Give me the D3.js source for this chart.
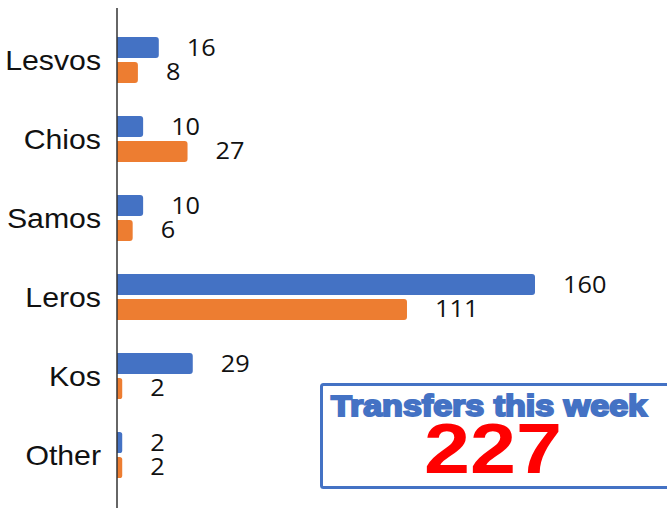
<!DOCTYPE html>
<html>
<head>
<meta charset="utf-8">
<script src="https://cdn.jsdelivr.net/npm/d3@7"></script>
<style>
  html, body { margin: 0; padding: 0; background: #fff; }
  svg { display: block; }
</style>
</head>
<body>
<div id="chart"></div>
<script>
// Data
const islands = ['Lesvos', 'Chios', 'Samos', 'Leros', 'Kos', 'Other'];
const seriesKeys = ['blue', 'orange'];
const blueValues = [16, 10, 10, 160, 29, 2];
const orangeValues = [8, 27, 6, 111, 2, 2];
const boxTitle = 'Transfers this week';
const boxTotal = '227';

const width = 667, height = 508;
const axisX = 117;
const colors = { blue: '#4472C4', orange: '#ED7D31' };

const svg = d3.select('#chart').append('svg')
    .attr('width', width)
    .attr('height', height);

// Scales
const x = d3.scaleLinear().domain([0, 160]).range([axisX, 535]);

const y = d3.scaleBand()
    .domain(islands)
    .range([20.5, 494.5])
    .paddingInner(0.418)
    .paddingOuter(0.209);

const ySub = d3.scaleBand()
    .domain(seriesKeys)
    .range([0, y.bandwidth()])
    .paddingInner(0.16);

const rows = islands.map((name, i) => ({
    name,
    values: [
        { key: 'blue', value: blueValues[i] },
        { key: 'orange', value: orangeValues[i] }
    ]
}));

// bar with rounded right corners only
function barPath(x0, y0, w, h, r) {
    r = Math.min(r, w / 2, h / 2);
    return `M${x0},${y0}H${x0 + w - r}Q${x0 + w},${y0} ${x0 + w},${y0 + r}` +
        `V${y0 + h - r}Q${x0 + w},${y0 + h} ${x0 + w - r},${y0 + h}H${x0}Z`;
}

// Bars
const group = svg.append('g')
    .selectAll('g')
    .data(rows)
    .enter().append('g')
    .attr('transform', d => `translate(0,${y(d.name)})`);

group.selectAll('path')
    .data(d => d.values)
    .enter().append('path')
    .attr('d', d => barPath(x(0), ySub(d.key), x(d.value) - x(0), ySub.bandwidth(), 3))
    .attr('fill', d => colors[d.key]);

// Value labels
group.selectAll('text.val')
    .data(d => d.values)
    .enter().append('text')
    .attr('class', 'val')
    .attr('transform', d => `translate(${x(d.value) + 28},${ySub(d.key) + ySub.bandwidth() / 2 + 8}) scale(1.1,1)`)
    .attr('font-family', "'Open Sans', 'Noto Sans', sans-serif")
    .attr('font-size', '23px')
    .attr('fill', '#111')
    .text(d => d.value);

// Category labels
group.append('text')
    .attr('transform', `translate(101,${y.bandwidth() / 2 + 9.5}) scale(1.1,1)`)
    .attr('text-anchor', 'end')
    .attr('font-family', "'Liberation Sans', Arial, sans-serif")
    .attr('font-size', '27.5px')
    .attr('fill', '#111')
    .text(d => d.name);

// Axis line
svg.append('line')
    .attr('x1', axisX).attr('x2', axisX)
    .attr('y1', 8).attr('y2', height)
    .attr('stroke', '#333')
    .attr('stroke-width', 1.5);

// Summary box
svg.append('rect')
    .attr('x', 321.5)
    .attr('y', 384.5)
    .attr('width', 380)
    .attr('height', 103)
    .attr('rx', 2)
    .attr('fill', '#fff')
    .attr('stroke', '#4472C4')
    .attr('stroke-width', 3);

svg.append('text')
    .attr('x', 331)
    .attr('y', 416)
    .attr('textLength', 316)
    .attr('lengthAdjust', 'spacingAndGlyphs')
    .attr('font-family', "'Liberation Sans', Arial, sans-serif")
    .attr('font-weight', 'bold')
    .attr('font-size', '29px')
    .attr('fill', '#4472C4')
    .attr('stroke', '#4472C4')
    .attr('stroke-width', 2)
    .text(boxTitle);

svg.append('text')
    .attr('x', 424)
    .attr('y', 473)
    .attr('textLength', 138)
    .attr('lengthAdjust', 'spacingAndGlyphs')
    .attr('font-family', "'Liberation Sans', Arial, sans-serif")
    .attr('font-weight', 'bold')
    .attr('font-size', '70px')
    .attr('fill', '#FF0000')
    .text(boxTotal);
</script>
</body>
</html>
